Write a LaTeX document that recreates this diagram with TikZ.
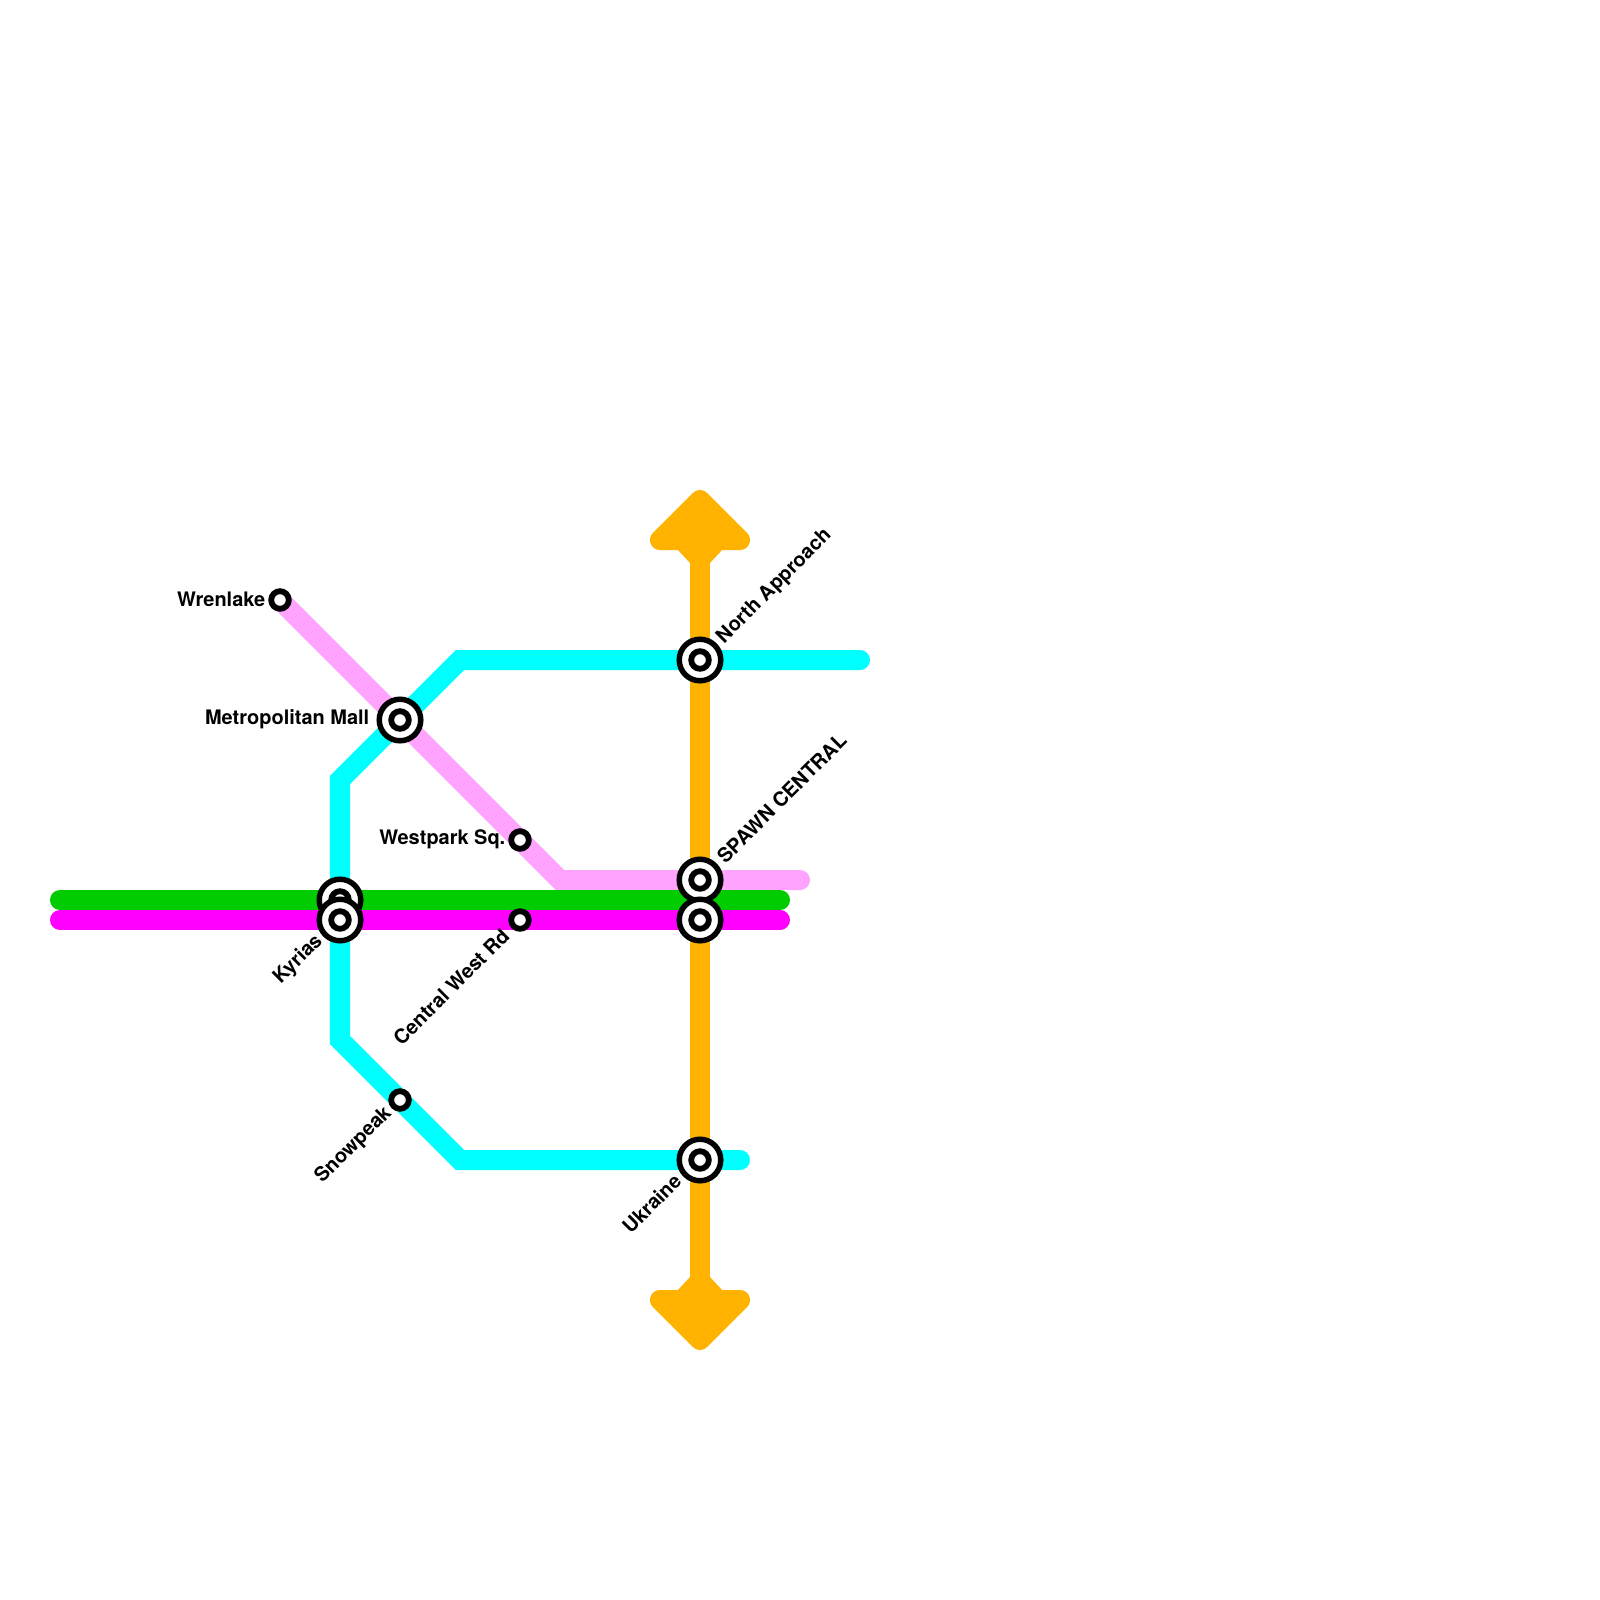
\documentclass[tikz,border=0pt]{standalone}
\usepackage{fontspec}
\setmainfont{TeX Gyre Heros}
\usetikzlibrary{backgrounds}
\definecolor{lineorange}{HTML}{FFB300}
\definecolor{linecyan}{HTML}{00FFFF}
\definecolor{linepink}{HTML}{FFA3FF}
\definecolor{linegreen}{HTML}{00CC00}
\definecolor{linemagenta}{HTML}{FF00FF}
\tikzset{
  route/.style={line width=0.2cm,line cap=round,line join=miter},
  hub/.style={circle,draw,line width=0.055cm,fill=white,minimum size=0.415cm,inner sep=0pt},
  stop/.style={circle,draw,line width=0.058cm,fill=white,minimum size=0.176cm,inner sep=0pt},
  stnlabel/.style={font=\fontsize{5.68}{7}\selectfont\bfseries,inner sep=0pt}
}

\begin{document}
\begin{tikzpicture}[x=0.01cm,y=-0.01cm]
\useasboundingbox (0,0) rectangle (1600,1600);
% stations
\node[hub] at (700,660) (northO) {};
\node[stop] at (700,660) (north) {};
\node[hub] at (700,880) (spawnO) {};
\node[stop] at (700,880) (spawn) {};
\node[hub] at (700,920) (eastO) {};
\node[stop] at (700,920) (east) {};
\node[hub] at (700,1160) (ukraineO) {};
\node[stop] at (700,1160) (ukraine) {};
\node[hub] at (400,720) (metroO) {};
\node[stop] at (400,720) (metro) {};
\node[hub] at (340,900) (westO) {};
\node[stop] at (340,900) (west) {};
\node[hub] at (340,920) (kyriasO) {};
\node[stop] at (340,920) (kyrias) {};
\node[stop] at (280,600) (wrenlake) {};
\node[stop] at (520,840) (westpark) {};
\node[stop] at (520,920) (central) {};
\node[stop] at (400,1100) (snowpeak) {};
% line ends and bends
\coordinate (cyanE) at (860,660);
\coordinate (cyanA) at (460,660);
\coordinate (cyanB) at (340,780);
\coordinate (cyanC) at (340,1040);
\coordinate (cyanD) at (460,1160);
\coordinate (cyanF) at (740,1160);
\coordinate (pinkA) at (560,880);
\coordinate (pinkE) at (800,880);
\coordinate (greenW) at (60,900);
\coordinate (greenE) at (780,900);
\coordinate (magW) at (60,920);
\coordinate (magE) at (780,920);
\coordinate (orT) at (700,540);
\coordinate (orB) at (700,1300);
% labels
\node[stnlabel,anchor=east] at (266,599) (wrenlakeL) {Wrenlake};
\node[stnlabel,anchor=east] at (370,719) (metroL) {Metropolitan Mall};
\node[stnlabel,anchor=east] at (506,839) (westparkL) {Westpark Sq.};
\node[stnlabel,anchor=west,rotate=45] at (720,641) (northL) {North Approach};
\node[stnlabel,anchor=west,rotate=45] at (720,860) (spawnL) {SPAWN CENTRAL};
\node[stnlabel,anchor=east,rotate=45] at (320,938) (kyriasL) {Kyrias};
\node[stnlabel,anchor=east,rotate=45] at (506,932) (centralL) {Central West Rd};
\node[stnlabel,anchor=east,rotate=45] at (389,1110) (snowpeakL) {Snowpeak};
\node[stnlabel,anchor=east,rotate=45] at (678,1177) (ukraineL) {Ukraine};
% routes
\begin{pgfonlayer}{background}
\draw[route,linecyan] (cyanE) -- (north.center) -- (cyanA) -- (metro.center) -- (cyanB) -- (kyrias.center) -- (cyanC) -- (cyanD) -- (ukraine.center) -- (cyanF);
\draw[route,linepink] (wrenlake.center) -- (metro.center) -- (pinkA) -- (spawn.center) -- (pinkE);
\draw[route,linegreen] (greenW) -- (west.center) -- (greenE);
\draw[route,linemagenta] (magW) -- (kyrias.center) -- (central.center) -- (east.center) -- (magE);
\draw[line width=0.2cm,lineorange] (orT) -- (north.center) -- (spawn.center) -- (east.center) -- (ukraine.center) -- (orB);
\draw[line width=0.2cm,line join=round,lineorange,fill=lineorange] (660,540) -- (700,500) -- (740,540) -- cycle;
\fill[lineorange] (677,549) -- (690,563) -- (710,563) -- (723,549) -- cycle;
\draw[line width=0.2cm,line join=round,lineorange,fill=lineorange] (660,1300) -- (700,1340) -- (740,1300) -- cycle;
\fill[lineorange] (677,1291) -- (690,1277) -- (710,1277) -- (723,1291) -- cycle;
\end{pgfonlayer}
\end{tikzpicture}
\end{document}
